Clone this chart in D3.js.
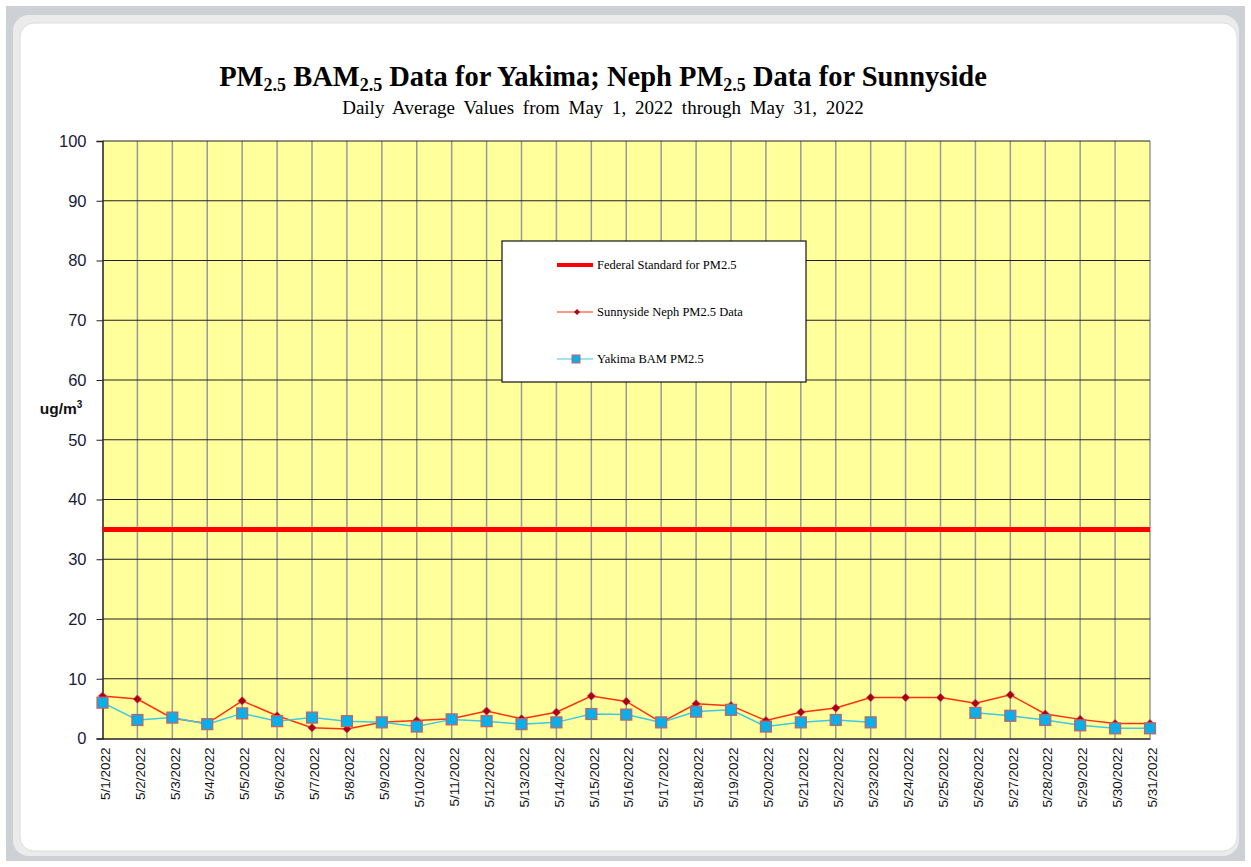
<!DOCTYPE html>
<html><head><meta charset="utf-8">
<script src="https://cdn.jsdelivr.net/npm/d3@7/dist/d3.min.js"></script>
<style>html,body{margin:0;padding:0;background:#fff;}svg{display:block;}</style>
</head><body>
<script>
const dates = ["5/1/2022","5/2/2022","5/3/2022","5/4/2022","5/5/2022","5/6/2022","5/7/2022","5/8/2022","5/9/2022","5/10/2022","5/11/2022","5/12/2022","5/13/2022","5/14/2022","5/15/2022","5/16/2022","5/17/2022","5/18/2022","5/19/2022","5/20/2022","5/21/2022","5/22/2022","5/23/2022","5/24/2022","5/25/2022","5/26/2022","5/27/2022","5/28/2022","5/29/2022","5/30/2022","5/31/2022"];
const sunnyside = [7.1,6.6,3.4,2.5,6.3,3.8,1.8,1.6,2.7,3.0,3.3,4.6,3.3,4.4,7.1,6.2,2.7,5.8,5.5,3.0,4.4,5.1,6.85,6.85,6.85,5.9,7.3,4.1,3.2,2.5,2.5];
const yakima = [6.0,3.1,3.5,2.4,4.2,2.9,3.5,2.9,2.7,2.0,3.2,2.9,2.4,2.7,4.1,4.0,2.7,4.5,4.8,2.0,2.7,3.1,2.7,null,null,4.3,3.8,3.1,2.2,1.7,1.7];
const federalStandard = 35;
const yTicks = [0,10,20,30,40,50,60,70,80,90,100];

const W = 1251, H = 867;
const svg = d3.select("body").append("svg").attr("width", W).attr("height", H);

// frame
svg.append("rect").attr("x",6).attr("y",6).attr("width",1239).attr("height",855).attr("fill","#cdd1d5");
svg.append("rect").attr("x",13).attr("y",15).attr("width",1226).attr("height",841).attr("rx",16).attr("fill","#ebebeb");
svg.append("rect").attr("x",20).attr("y",23).attr("width",1217).attr("height",828).attr("rx",14).attr("fill","#fff").attr("stroke","#dcdcdc");

const L = 102.5, R = 1150, T = 141, B = 738.5;
const x = d3.scalePoint().domain(dates).range([L, R]);
const y = d3.scaleLinear().domain([0,100]).range([B, T]);

svg.append("rect").attr("x",L).attr("y",T).attr("width",R-L).attr("height",B-T).attr("fill","#ffff9c");

// vertical gridlines
svg.append("g").selectAll("line").data(dates.slice(1)).join("line")
  .attr("x1", d=>x(d)).attr("x2", d=>x(d)).attr("y1", T).attr("y2", B)
  .attr("stroke","#999").attr("stroke-width",1.5);
// horizontal gridlines
svg.append("g").selectAll("line").data(yTicks.slice(1)).join("line")
  .attr("x1", L).attr("x2", R).attr("y1", d=>y(d)).attr("y2", d=>y(d))
  .attr("stroke","#222").attr("stroke-width",1);

// y axis
const yAxis = d3.axisLeft(y).tickValues(yTicks).tickSize(6).tickPadding(10);
const gy = svg.append("g").attr("transform",`translate(${L},0)`).call(yAxis);
gy.select(".domain").attr("stroke","#222").attr("stroke-width",1.5);
gy.selectAll(".tick line").attr("stroke","#222");
gy.selectAll("text").attr("font-family","Liberation Sans, Arial, sans-serif").attr("font-size",16.5).attr("fill","#1a1a3a");

// x axis
const xAxis = d3.axisBottom(x).tickSize(0).tickPadding(6);
const gx = svg.append("g").attr("transform",`translate(0,${B})`).call(xAxis);
gx.select(".domain").attr("stroke","#222").attr("stroke-width",1.5);
gx.selectAll("text").attr("font-family","Liberation Sans, Arial, sans-serif").attr("font-size",13.5).attr("fill","#111")
  .attr("text-anchor","end").attr("dy","0.35em")
  .attr("transform","translate(2,3) rotate(-90)").attr("x",-6).attr("y",0);

// ylabel
const yl = svg.append("text").attr("x",61).attr("y",414).attr("text-anchor","middle")
  .attr("font-family","Liberation Sans, Arial, sans-serif").attr("font-weight","bold").attr("font-size",15.5).attr("fill","#111");
yl.append("tspan").text("ug/m");
yl.append("tspan").text("3").attr("font-size",10).attr("dy",-6);

// federal standard
svg.append("line").attr("x1",L).attr("x2",R).attr("y1",y(federalStandard)).attr("y2",y(federalStandard))
  .attr("stroke","#ff0000").attr("stroke-width",5);

// lines
const line = d3.line().defined(d=>d[1]!=null).x(d=>x(d[0])).y(d=>y(d[1]));
svg.append("path").datum(dates.map((d,i)=>[d,sunnyside[i]])).attr("d",line)
  .attr("fill","none").attr("stroke","#ff3010").attr("stroke-width",1.5);
svg.append("path").datum(dates.map((d,i)=>[d,yakima[i]])).attr("d",line)
  .attr("fill","none").attr("stroke","#3cc8e8").attr("stroke-width",1.5);

// sunnyside markers (diamonds)
const diamond = d3.symbol().type(d3.symbolSquare).size(34);
svg.append("g").selectAll("path").data(dates.map((d,i)=>[d,sunnyside[i]]).filter(d=>d[1]!=null)).join("path")
  .attr("d", diamond).attr("transform", d=>`translate(${x(d[0])},${y(d[1])}) rotate(45)`)
  .attr("fill","#a8001c").attr("stroke","#d04050").attr("stroke-width",0.6);
// yakima markers (squares)
svg.append("g").selectAll("rect").data(dates.map((d,i)=>[d,yakima[i]]).filter(d=>d[1]!=null)).join("rect")
  .attr("x", d=>x(d[0])-5.5).attr("y", d=>y(d[1])-5.5).attr("width",11).attr("height",11)
  .attr("fill","#0aaee8").attr("stroke","#c86060").attr("stroke-width",1.2);

// title
const title = svg.append("text").attr("x",603).attr("y",86).attr("text-anchor","middle")
  .attr("font-family","Liberation Serif, Times New Roman, serif").attr("font-weight","bold").attr("font-size",28.5).attr("fill","#000");
const parts = [["PM",false],["2.5",true],[" BAM",false],["2.5",true],[" Data for Yakima; Neph PM",false],["2.5",true],[" Data for Sunnyside",false]];
let sub = false;
parts.forEach(([t,s])=>{
  const ts = title.append("tspan").text(t);
  if (s) { ts.attr("font-size",18).attr("dy", 5); sub = true; }
  else if (sub) { ts.attr("dy",-5); sub = false; }
});
svg.append("text").attr("x",603).attr("y",114).attr("text-anchor","middle")
  .attr("font-family","Liberation Serif, Times New Roman, serif").attr("font-size",19).attr("fill","#000")
  .attr("word-spacing","4px")
  .text("Daily Average Values from May 1, 2022 through May 31, 2022");

// legend
const lg = svg.append("g");
lg.append("rect").attr("x",502).attr("y",241).attr("width",304).attr("height",141).attr("fill","#fff").attr("stroke","#111").attr("stroke-width",1.2);
const lf = "Liberation Serif, Times New Roman, serif";
lg.append("line").attr("x1",557).attr("x2",593).attr("y1",265).attr("y2",265).attr("stroke","#ff0000").attr("stroke-width",4);
lg.append("text").attr("x",597).attr("y",269).attr("font-family",lf).attr("font-size",12.5).text("Federal Standard for PM2.5");
lg.append("line").attr("x1",557).attr("x2",593).attr("y1",312).attr("y2",312).attr("stroke","#ff3010").attr("stroke-width",1.2);
lg.append("path").attr("d",d3.symbol().type(d3.symbolSquare).size(18)).attr("transform","translate(577,312) rotate(45)").attr("fill","#a8001c");
lg.append("text").attr("x",597).attr("y",316).attr("font-family",lf).attr("font-size",12.5).text("Sunnyside Neph PM2.5 Data");
lg.append("line").attr("x1",557).attr("x2",593).attr("y1",359).attr("y2",359).attr("stroke","#3cc8e8").attr("stroke-width",1.2);
lg.append("rect").attr("x",572).attr("y",355).attr("width",8).attr("height",8).attr("fill","#0aaee8").attr("stroke","#c86060");
lg.append("text").attr("x",597).attr("y",363).attr("font-family",lf).attr("font-size",12.5).text("Yakima BAM PM2.5");
</script>
</body></html>
